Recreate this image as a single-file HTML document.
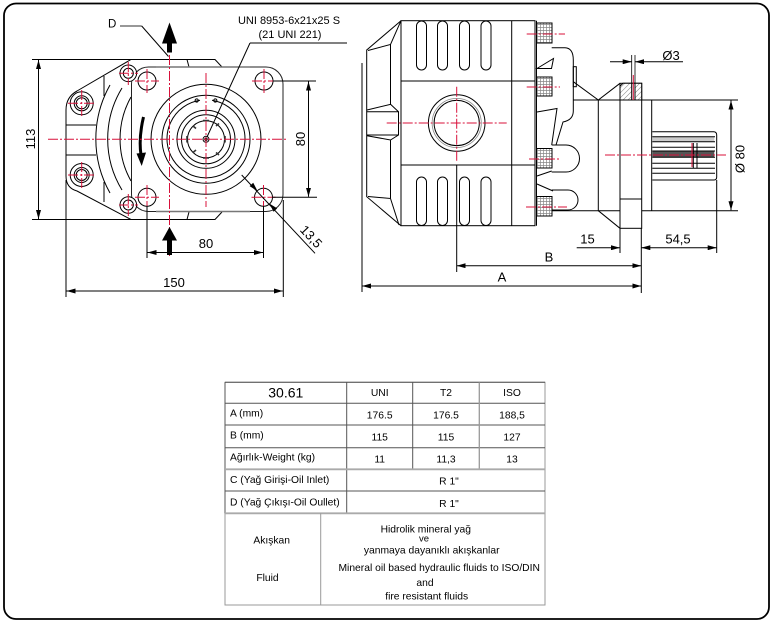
<!DOCTYPE html>
<html><head><meta charset="utf-8">
<style>
html,body{margin:0;padding:0;background:#fff;}
svg{display:block;}
text{font-family:"Liberation Sans",Arial,sans-serif;fill:#000;}
</style></head><body>
<svg width="771" height="621" viewBox="0 0 771 621" xmlns="http://www.w3.org/2000/svg">
<defs>
<marker id="ar" viewBox="0 0 9 5" refX="9" refY="2.5" markerWidth="9" markerHeight="5" markerUnits="userSpaceOnUse" orient="auto-start-reverse"><path d="M0,0 L9,2.5 L0,5 z" fill="#000"/></marker>
<pattern id="grid" width="3" height="3" patternUnits="userSpaceOnUse"><rect width="3" height="3" fill="#fff"/><path d="M0,0.5 H3 M0.5,0 V3" stroke="#888" stroke-width="0.7"/></pattern>
<pattern id="hatch" width="3.5" height="3.5" patternUnits="userSpaceOnUse" patternTransform="rotate(45)"><rect width="3.5" height="3.5" fill="#fff"/><path d="M0,0 V3.5" stroke="#777" stroke-width="0.9"/></pattern>
</defs>
<rect x="0" y="0" width="771" height="621" fill="#fff"/>
<rect x="4" y="3.5" width="765" height="615.5" rx="12" fill="none" stroke="#000" stroke-width="1.8"/>

<!-- ================= LEFT DRAWING ================= -->
<g fill="none" stroke="#000" stroke-width="1">
  <!-- rear body -->
  <path d="M222,67 L215,59.5 L131,59.5 L77,91 Q66,97 66,110 L66,176 Q66,188 77,191 L131,219.5 L215,219.5 L222,212"/>
  <path d="M187,59.5 L189,67 M187,219.5 L189,212"/>
  <path d="M110,85 A110,110 0 0 0 110,193"/>
  <path d="M122,88 A98,98 0 0 0 122,190"/>
  <path d="M131,97 A86,86 0 0 0 131,181"/>
  <path d="M104,76 L104,96 M104,182 L104,202 M66,125 L96,125 M66,155 L96,155"/>
  <circle cx="81.7" cy="103.3" r="11.5" fill="#fff"/>
  <circle cx="81.7" cy="103.3" r="7.5"/>
  <circle cx="81.7" cy="103.3" r="5.5"/>
  <circle cx="81.7" cy="175" r="11.5" fill="#fff"/>
  <circle cx="81.7" cy="175" r="7.5"/>
  <circle cx="81.7" cy="175" r="5.5"/>
  <!-- flange -->
  <rect x="131.5" y="67" width="151.5" height="144.5" rx="17" fill="#fff" stroke="#222"/>
  <line x1="156" y1="67" x2="250" y2="67" stroke="#777" stroke-width="1.6"/>
  <line x1="156" y1="211.5" x2="250" y2="211.5" stroke="#777" stroke-width="1.6"/>
  <circle cx="128.3" cy="73.3" r="8.3" fill="#fff"/>
  <circle cx="128.3" cy="73.3" r="5"/>
  <circle cx="128.3" cy="205" r="8.3" fill="#fff"/>
  <circle cx="128.3" cy="205" r="5"/>
  <!-- bolt holes -->
  <circle cx="147" cy="81" r="9"/>
  <circle cx="264" cy="81" r="9"/>
  <circle cx="147" cy="197.3" r="9"/>
  <circle cx="263.5" cy="197.3" r="9"/>
  <!-- concentric circles -->
  <circle cx="206" cy="139.3" r="55"/>
  <circle cx="206" cy="139.3" r="44"/>
  <path d="M200,100.3 A39,39 0 1 0 212,100.3"/>
  <circle cx="196.7" cy="100.5" r="1.6"/>
  <circle cx="215.3" cy="100.5" r="1.6"/>
  <circle cx="206" cy="139.3" r="29"/>
  <circle cx="206" cy="139.3" r="24.5"/>
  <circle cx="206" cy="139.3" r="18.5"/>
  <circle cx="206" cy="139.3" r="3"/>
  <circle cx="206" cy="139.3" r="1.2"/>
  <g stroke-width="1.6" stroke="#333">
    <path d="M187,136 V142.5 M225,136 V142.5 M203,120.5 H209 M203,158 H209 M193,126 L196,128.5 M216,126 L219,123.5 M193,152.5 L196,150 M216,152.5 L219,155"/>
  </g>
  <!-- rotation arrow -->
  <path d="M143.5,117 Q138.5,138 141,155" stroke-width="3"/>
</g>
<polygon points="136.5,153.5 146,152.5 141.7,166" fill="#000"/>

<!-- red centerlines left -->
<g stroke="#d8103a" stroke-width="1" fill="none" stroke-dasharray="10 2 2 2">
  <line x1="48" y1="139.3" x2="288" y2="139.3"/>
  <line x1="206" y1="73" x2="206" y2="207"/>
  <line x1="169.5" y1="55" x2="169.5" y2="256"/>
  <line x1="135" y1="81" x2="159" y2="81"/><line x1="147" y1="69" x2="147" y2="93"/>
  <line x1="252" y1="81" x2="276" y2="81"/><line x1="264" y1="69" x2="264" y2="93"/>
  <line x1="135" y1="197.3" x2="159" y2="197.3"/><line x1="147" y1="185" x2="147" y2="209"/>
  <line x1="251.5" y1="197.3" x2="275.5" y2="197.3"/><line x1="263.5" y1="185" x2="263.5" y2="209"/>
  <line x1="68" y1="103.3" x2="96" y2="103.3"/><line x1="81.7" y1="90" x2="81.7" y2="117"/>
  <line x1="68" y1="175" x2="96" y2="175"/><line x1="81.7" y1="162" x2="81.7" y2="188"/>
  <line x1="119" y1="73.3" x2="138" y2="73.3"/><line x1="128.3" y1="62" x2="128.3" y2="85"/>
  <line x1="119" y1="205" x2="138" y2="205"/><line x1="128.3" y1="194" x2="128.3" y2="216"/>
</g>

<!-- outlet/inlet arrows -->
<polygon points="169.5,22.5 162,43.5 177,43.5" fill="#000"/>
<rect x="167" y="43.5" width="5" height="9" fill="#000"/>
<polygon points="169.5,227 162,240.5 177,240.5" fill="#000"/>
<rect x="167" y="240.5" width="5" height="14.5" fill="#000"/>

<!-- leaders -->
<g fill="none" stroke-width="1">
  <line x1="120" y1="26" x2="141.7" y2="26" stroke="#777" stroke-width="1.4"/>
  <line x1="141.7" y1="26" x2="168.5" y2="56.5" stroke="#000"/>
  <line x1="250" y1="43" x2="347" y2="43" stroke="#000"/>
  <line x1="250" y1="43" x2="207" y2="137" stroke="#000"/>
</g>

<!-- dimensions left -->
<g fill="none" stroke="#000" stroke-width="1">
  <line x1="32" y1="59.5" x2="131" y2="59.5"/>
  <line x1="32" y1="219.5" x2="131" y2="219.5"/>
  <line x1="38.5" y1="60" x2="38.5" y2="219" marker-start="url(#ar)" marker-end="url(#ar)"/>
  <line x1="273" y1="81" x2="316" y2="81"/>
  <line x1="272" y1="197.3" x2="317" y2="197.3"/>
  <line x1="308.5" y1="81.5" x2="308.5" y2="196.8" marker-start="url(#ar)" marker-end="url(#ar)"/>
  <line x1="147" y1="206" x2="147" y2="258"/>
  <line x1="263.5" y1="206" x2="263.5" y2="258"/>
  <line x1="147.5" y1="252.5" x2="263" y2="252.5" marker-start="url(#ar)" marker-end="url(#ar)"/>
  <line x1="66" y1="180" x2="66" y2="297"/>
  <line x1="283.3" y1="200" x2="283.3" y2="297"/>
  <line x1="66.5" y1="291" x2="282.8" y2="291" marker-start="url(#ar)" marker-end="url(#ar)"/>
  <line x1="241.7" y1="175" x2="315" y2="253.3"/>
</g>
<polygon points="257.5,191 249.6,186.1 253.2,182.7" fill="#000"/>
<polygon points="269.3,203.5 273.6,211.8 277.2,208.4" fill="#000"/>

<g font-size="13">
  <text x="108" y="27.5" font-size="11.5">D</text>
  <text x="289" y="24" font-size="11" text-anchor="middle">UNI 8953-6x21x25 S</text>
  <text x="290" y="38" font-size="11" text-anchor="middle">(21 UNI 221)</text>
  <text transform="translate(30.5,139) rotate(-90)" x="0" y="4.6" text-anchor="middle">113</text>
  <text transform="translate(300.3,139) rotate(-90)" x="0" y="4.6" text-anchor="middle">80</text>
  <text x="206" y="248" text-anchor="middle">80</text>
  <text x="174" y="287" text-anchor="middle">150</text>
  <text transform="translate(311.3,236.5) rotate(47)" x="0" y="4.6" text-anchor="middle">13,5</text>
</g>

<!-- ================= RIGHT DRAWING ================= -->
<g fill="none" stroke="#000" stroke-width="1">
  <line x1="362" y1="63" x2="362" y2="292"/>
  <path d="M401,20.7 L366.7,50 L366.7,196.7 L401,225.7" fill="#fff"/>
  <path d="M401,20.7 L390.5,44.5 L368,50.5 M390.5,44.5 L390.5,104.3 L367,110 M390.5,104.3 L398.5,111.7 L398.5,135 L390.5,140 L367,135.7 M390.5,140 L390.5,198.5 L368,196.5 M390.5,198.5 L399,225 M367,111.7 L398.5,111.7 M367,135 L398.5,135"/>
  <rect x="401" y="20.7" width="134" height="205"/>
  <line x1="401" y1="81" x2="535" y2="81"/>
  <line x1="401" y1="165" x2="535" y2="165"/>
  <line x1="511.7" y1="20.7" x2="511.7" y2="225.7"/>
  <line x1="456.7" y1="165" x2="456.7" y2="272"/>
  <rect x="416.5" y="21" width="10" height="49" rx="5"/>
  <rect x="437.5" y="21" width="10" height="49" rx="5"/>
  <rect x="459.5" y="21" width="10" height="49" rx="5"/>
  <rect x="481" y="21" width="10" height="49" rx="5"/>
  <rect x="416.5" y="177" width="10" height="48.5" rx="5"/>
  <rect x="437.5" y="177" width="10" height="48.5" rx="5"/>
  <rect x="459.5" y="177" width="10" height="48.5" rx="5"/>
  <rect x="481" y="177" width="10" height="48.5" rx="5"/>
  <circle cx="456.7" cy="123" r="28.3"/>
  <circle cx="456.7" cy="123" r="24.6" stroke="#888" stroke-width="0.8"/>
  <circle cx="456.7" cy="123" r="22.6"/>
  <!-- end cover pieces -->
  <line x1="536.5" y1="20.7" x2="536.5" y2="225.7"/>
  <path d="M551.7,47.7 L565,47.7 Q573.3,48 573.3,60 L573.3,111 Q573.3,120 563,122 L556,145"/>
  <rect x="573.3" y="66.7" width="3" height="20"/>
  <path d="M537,68.5 L553.5,58.5 L551.5,68.5 Z"/>
  <path d="M537,112 L557,108.5 L551.7,145"/>
  <path d="M551.7,145 L566,145 A13.5,13.5 0 0 1 566,172 L551.7,172"/>
  <path d="M551.7,190 L568,190 A10,10 0 0 1 568,210 L551.7,210"/>
  <path d="M537,176 L551.7,171 M537,184 L553,191"/>
  <rect x="536.5" y="23" width="15.5" height="20" fill="url(#grid)"/>
  <rect x="536.5" y="77" width="15.5" height="19" fill="url(#grid)"/>
  <rect x="536.5" y="148.5" width="15.5" height="19.5" fill="url(#grid)"/>
  <rect x="536.5" y="196.5" width="15.5" height="19.5" fill="url(#grid)"/>
  <!-- connection -->
  <path d="M573.3,81.7 L598.3,100 L620,83.3"/>
  <line x1="573.3" y1="100" x2="738" y2="100"/>
  <line x1="551.7" y1="210.7" x2="738" y2="210.7"/>
  <line x1="598.3" y1="100" x2="598.3" y2="210.7"/>
  <line x1="598.3" y1="210.7" x2="620" y2="228.3"/>
  <!-- mounting plate -->
  <rect x="620" y="83.3" width="21.7" height="145" fill="#fff"/>
  <path d="M623,83.3 L641.7,83.3 L641.7,100 L620,100 L620,86.3 Z" fill="url(#hatch)"/>
  <rect x="631.7" y="83.3" width="3.3" height="16.7" fill="#fff"/>
  <line x1="620" y1="199" x2="641.7" y2="199"/>
  <line x1="651.7" y1="100" x2="651.7" y2="210.7"/>
  <!-- shaft -->
  <rect x="652.3" y="151" width="62" height="6.3" fill="#555" stroke="none"/>
  <rect x="652.3" y="137" width="62" height="4.5" fill="#ccc" stroke="none"/>
  <path d="M652.3,131.7 H714 M652.3,136.7 H715 M652.3,141.7 H715 M652.3,147.3 H715 M652.3,151 H715 M652.3,157.3 H715 M652.3,163.3 H715 M652.3,168.3 H715 M652.3,173.3 H715 M652.3,180 H714"/>
  <path d="M714,131.7 Q716.7,132 716.7,135 L716.7,177 Q716.7,180 714,180"/>
  <line x1="693.3" y1="143" x2="693.3" y2="168.3"/>
  <line x1="697" y1="143" x2="697" y2="168.3"/>
  <!-- dims right -->
  <line x1="731" y1="100.5" x2="731" y2="210.2" marker-start="url(#ar)" marker-end="url(#ar)"/>
  <line x1="631.7" y1="55" x2="631.7" y2="83.3" stroke-width="0.8"/>
  <line x1="635" y1="55" x2="635" y2="83.3" stroke-width="0.8"/>
  <line x1="610" y1="61.7" x2="631.7" y2="61.7" marker-end="url(#ar)"/>
  <line x1="683" y1="61.7" x2="635" y2="61.7" marker-end="url(#ar)"/>
  <line x1="620" y1="228.3" x2="620" y2="253"/>
  <line x1="641.3" y1="228.3" x2="641.3" y2="293"/>
  <line x1="716.7" y1="180" x2="716.7" y2="253"/>
  <line x1="576.7" y1="247.7" x2="620" y2="247.7" marker-end="url(#ar)"/>
  <line x1="641.3" y1="247.7" x2="716.7" y2="247.7" marker-start="url(#ar)" marker-end="url(#ar)"/>
  <line x1="456.7" y1="265.7" x2="641.3" y2="265.7" marker-start="url(#ar)" marker-end="url(#ar)"/>
  <line x1="362" y1="286" x2="641.3" y2="286" marker-start="url(#ar)" marker-end="url(#ar)"/>
</g>

<!-- red right -->
<g stroke="#d8103a" stroke-width="1" fill="none" stroke-dasharray="10 2 2 2">
  <line x1="386.7" y1="123" x2="506.7" y2="123"/>
  <line x1="456.7" y1="86.7" x2="456.7" y2="161.7"/>
  <line x1="526.7" y1="34" x2="565" y2="34"/>
  <line x1="526.7" y1="87" x2="560" y2="87"/>
  <line x1="529" y1="159" x2="559" y2="159"/>
  <line x1="526" y1="207" x2="567" y2="207"/>
  <line x1="605" y1="155" x2="726" y2="155"/>
  <line x1="633.3" y1="75" x2="633.3" y2="100" stroke-dasharray="none"/>
  <line x1="692" y1="143" x2="692" y2="167" stroke-dasharray="none"/>
</g>

<g font-size="13">
  <text x="671" y="60" text-anchor="middle">Ø3</text>
  <text transform="translate(740,159) rotate(-90)" x="0" y="4.6" text-anchor="middle">Ø 80</text>
  <text x="587.5" y="243.5" text-anchor="middle">15</text>
  <text x="678" y="243.5" text-anchor="middle">54,5</text>
  <text x="549" y="261.7" text-anchor="middle">B</text>
  <text x="502" y="281.7" text-anchor="middle">A</text>
</g>

<!-- ================= TABLE ================= -->
<g fill="none" stroke-width="1">
  <rect x="225" y="382.3" width="320" height="222.7" stroke="#999"/>
  <g stroke="#555">
    <line x1="225" y1="382.3" x2="545" y2="382.3"/>
    <line x1="225" y1="382.3" x2="225" y2="513.3"/>
    <line x1="225" y1="403.3" x2="545" y2="403.3"/>
    <line x1="225" y1="425" x2="545" y2="425"/>
    <line x1="225" y1="447.7" x2="545" y2="447.7"/>
    <line x1="225" y1="491" x2="545" y2="491"/>
    <line x1="346.7" y1="382.3" x2="346.7" y2="513.3"/>
    <line x1="412.7" y1="382.3" x2="412.7" y2="469.3"/>
  </g>
  <line x1="479.3" y1="382.3" x2="479.3" y2="469.3" stroke="#999" stroke-width="1.3"/>
  <line x1="225" y1="469.3" x2="545" y2="469.3" stroke="#aaa" stroke-width="1.8"/>
  <line x1="225" y1="513.3" x2="545" y2="513.3" stroke="#aaa" stroke-width="1.8"/>
  <line x1="320.7" y1="513.3" x2="320.7" y2="605" stroke="#999"/>
</g>
<g font-size="10.3">
  <text x="285.8" y="397.7" font-size="14" text-anchor="middle">30.61</text>
  <text x="379.7" y="396" text-anchor="middle">UNI</text>
  <text x="446" y="396" text-anchor="middle">T2</text>
  <text x="512" y="396" text-anchor="middle">ISO</text>
  <text x="230" y="416.3">A (mm)</text>
  <text x="379.7" y="418.5" text-anchor="middle">176.5</text>
  <text x="446" y="418.5" text-anchor="middle">176.5</text>
  <text x="512" y="418.5" text-anchor="middle">188,5</text>
  <text x="230" y="438.5">B (mm)</text>
  <text x="379.7" y="440.3" text-anchor="middle">115</text>
  <text x="446" y="440.3" text-anchor="middle">115</text>
  <text x="512" y="440.3" text-anchor="middle">127</text>
  <text x="230" y="460.5">Ağırlık-Weight (kg)</text>
  <text x="379.7" y="462.3" text-anchor="middle">11</text>
  <text x="446" y="462.3" text-anchor="middle">11,3</text>
  <text x="512" y="462.3" text-anchor="middle">13</text>
  <text x="230" y="483">C (Yağ Girişi-Oil Inlet)</text>
  <text x="449" y="484.5" text-anchor="middle">R 1"</text>
  <text x="230" y="505.3">D (Yağ Çıkışı-Oil Oullet)</text>
  <text x="449" y="507" text-anchor="middle">R 1"</text>
  <text x="271.7" y="543.3" text-anchor="middle">Akışkan</text>
  <text x="267.5" y="581" text-anchor="middle">Fluid</text>
  <text x="425.8" y="532.3" text-anchor="middle">Hidrolik mineral yağ</text>
  <text x="424" y="541.7" text-anchor="middle" font-size="9.5">ve</text>
  <text x="431.7" y="553.7" text-anchor="middle">yanmaya dayanıklı akışkanlar</text>
  <text x="439.2" y="571" text-anchor="middle">Mineral oil based hydraulic fluids to ISO/DIN</text>
  <text x="425" y="586" text-anchor="middle">and</text>
  <text x="426.7" y="599.3" text-anchor="middle">fire resistant fluids</text>
</g>
</svg>
</body></html>
